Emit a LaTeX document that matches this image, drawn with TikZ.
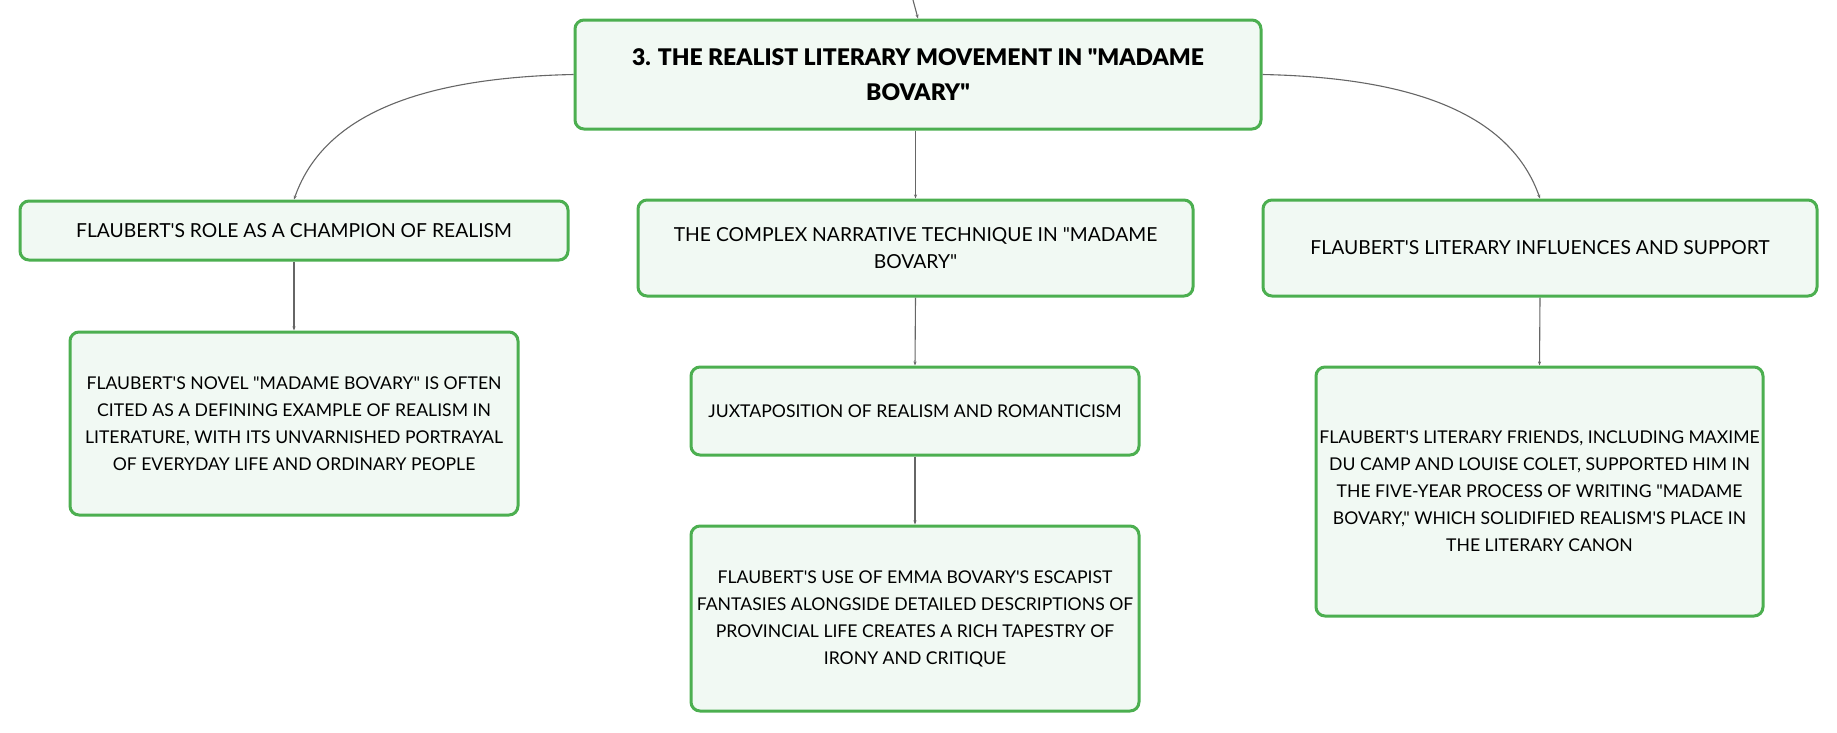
\documentclass[tikz,border=0pt]{standalone}
\usepackage{fontspec}
\setmainfont{Lato}[Ligatures=TeXOff]
\newfontfamily\rootfont{Lato Black}[Ligatures=TeXOff]
\usetikzlibrary{arrows.meta}
\definecolor{boxgreen}{HTML}{4CAF50}
\definecolor{boxfill}{HTML}{F1F9F3}
\definecolor{linkgray}{HTML}{666666}

\begin{document}
\begin{tikzpicture}[x=1pt, y=-1pt,
        topic/.style={draw=boxgreen, fill=boxfill, line width=3pt, rounded corners=9pt,
            align=center, inner sep=0pt, font=\fontsize{19.3}{27}\selectfont},
        subtopic/.style={topic, font=\fontsize{17.6}{27}\selectfont},
        roottopic/.style={topic, font=\fontsize{22.9}{35}\selectfont\rootfont},
        link/.style={draw=linkgray, line width=1.1pt, -{Stealth[length=4pt, width=3pt]}}]
        \useasboundingbox (0,0) rectangle (1837,732);

        % Root
        \coordinate (parent) at (913,0);
        \node[roottopic, minimum width=686pt, minimum height=109pt] (root) at (918,74.5)
            {3. THE REALIST LITERARY MOVEMENT IN "MADAME\\BOVARY"};

        % First level
        \node[topic, minimum width=548pt, minimum height=59pt] (role) at (294,230.5)
            {FLAUBERT'S ROLE AS A CHAMPION OF REALISM};
        \node[topic, minimum width=555pt, minimum height=96pt] (technique) at (915.5,248)
            {THE COMPLEX NARRATIVE TECHNIQUE IN "MADAME\\BOVARY"};
        \node[topic, minimum width=554pt, minimum height=96pt] (influences) at (1540,248)
            {FLAUBERT'S LITERARY INFLUENCES AND SUPPORT};

        % Second level
        \node[subtopic, minimum width=448pt, minimum height=183pt] (novel) at (294,423.5)
            {FLAUBERT'S NOVEL "MADAME BOVARY" IS OFTEN\\CITED AS A DEFINING EXAMPLE OF REALISM IN\\LITERATURE, WITH ITS UNVARNISHED PORTRAYAL\\OF EVERYDAY LIFE AND ORDINARY PEOPLE};
        \node[subtopic, minimum width=448pt, minimum height=88pt] (juxta) at (915,411)
            {JUXTAPOSITION OF REALISM AND ROMANTICISM};
        \node[subtopic, minimum width=448pt, minimum height=185pt] (escapist) at (915,618.5)
            {FLAUBERT'S USE OF EMMA BOVARY'S ESCAPIST\\FANTASIES ALONGSIDE DETAILED DESCRIPTIONS OF\\PROVINCIAL LIFE CREATES A RICH TAPESTRY OF\\IRONY AND CRITIQUE};
        \node[subtopic, minimum width=447pt, minimum height=249pt] (friends) at (1539.5,491.5)
            {FLAUBERT'S LITERARY FRIENDS, INCLUDING MAXIME\\DU CAMP AND LOUISE COLET, SUPPORTED HIM IN\\THE FIVE-YEAR PROCESS OF WRITING "MADAME\\BOVARY," WHICH SOLIDIFIED REALISM'S PLACE IN\\THE LITERARY CANON};

        % Links
        \draw[link] (parent) -- (root.north);
        \draw[link] (root.west) .. controls (400,78) and (320,125) .. (role.north);
        \draw[link] (root.south -| technique.north) -- (technique.north);
        \draw[link] (root.east) .. controls (1435,78) and (1514,125) .. (influences.north);
        \draw[link] (role.south) -- (novel.north);
        \draw[link] (technique.south) -- (juxta.north);
        \draw[link] (juxta.south) -- (escapist.north);
        \draw[link] (influences.south) -- (friends.north);
    \end{tikzpicture}
\end{document}
